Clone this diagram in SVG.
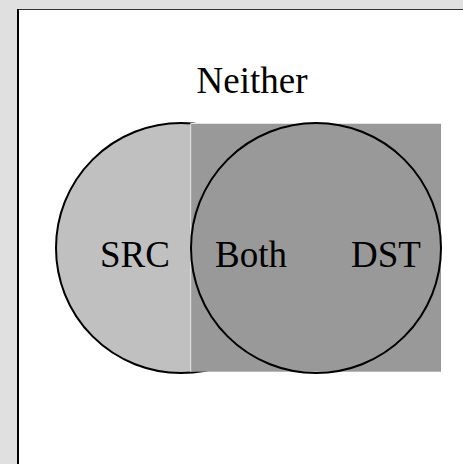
<svg xmlns="http://www.w3.org/2000/svg" width="463" height="464" viewBox="0 0 463 464">
  <style>
    .label { font-family: "Liberation Serif", "Times New Roman", serif; font-size: 37px; fill: #000; text-anchor: middle; }
    .ring { stroke: #000; stroke-width: 2; }
  </style>
  <!-- window background and frame -->
  <rect x="0" y="0" width="463" height="464" fill="#e0e0e0"/>
  <rect x="17" y="9" width="446" height="455" fill="#ffffff"/>
  <line x1="17" y1="9.5" x2="463" y2="9.5" stroke="#333333" stroke-width="1"/>
  <line x1="18" y1="9" x2="18" y2="464" stroke="#000000" stroke-width="2"/>

  <g id="neither">
    <text class="label" x="252" y="93">Neither</text>
  </g>

  <g id="src">
    <circle class="ring" cx="181" cy="248" r="125" fill="#c0c0c0"/>
    <text class="label" x="135" y="266.5">SRC</text>
  </g>

  <g id="dst-region">
    <rect x="191" y="123.5" width="250" height="248.2" fill="#999999"/>
    <polyline points="190.7,371.7 190.7,123.5 441,123.5" fill="none" stroke="#e4e4e4" stroke-width="1"/>
  </g>

  <g id="dst">
    <circle class="ring" cx="316" cy="248" r="125" fill="none"/>
    <text class="label" x="386" y="266.5">DST</text>
  </g>

  <g id="both">
    <text class="label" x="251" y="266.5">Both</text>
  </g>

  <g id="connectors"/>
</svg>
